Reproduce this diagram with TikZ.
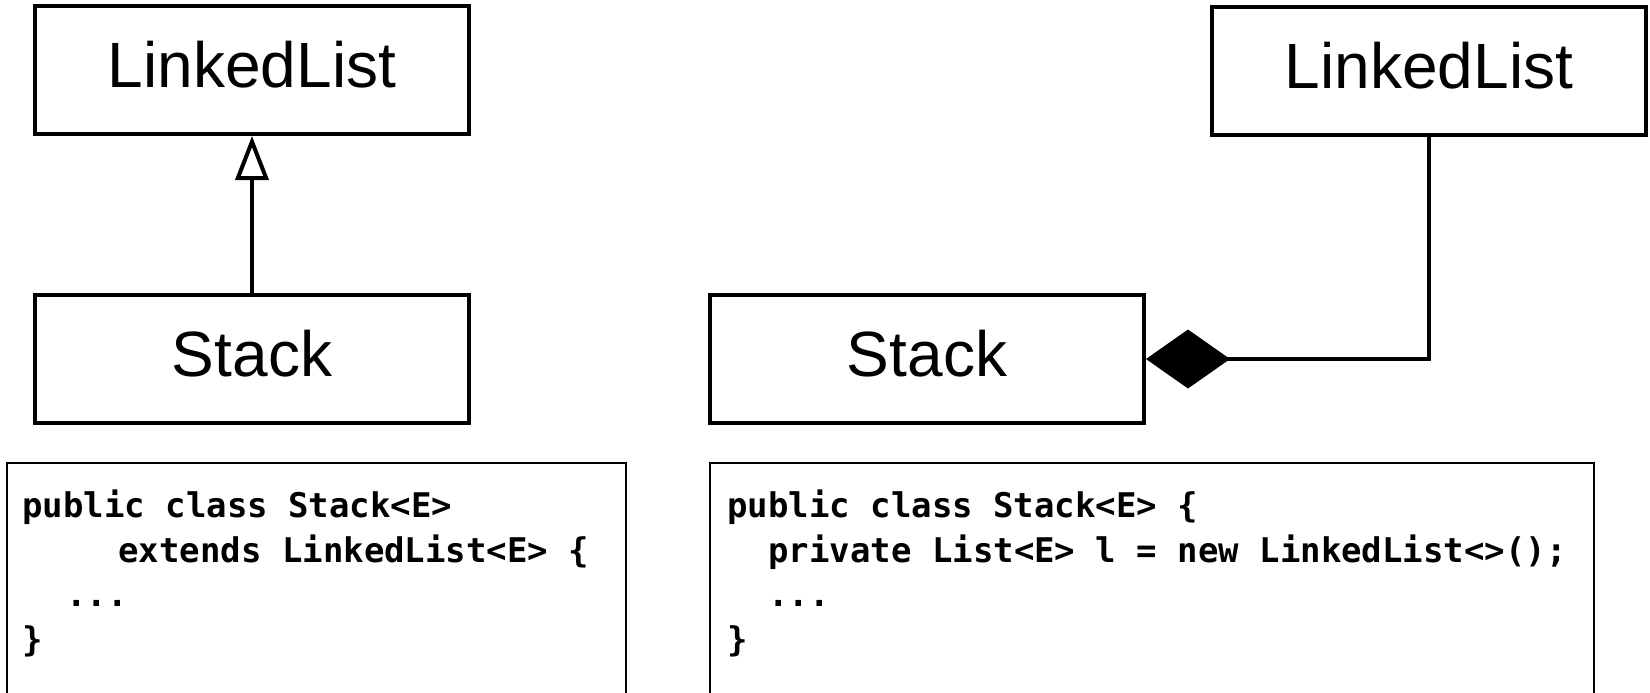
\documentclass[tikz,border=0pt]{standalone}
\usepackage{fontspec}
\setmainfont{Liberation Sans}
\setmonofont{DejaVu Sans Mono}
\usetikzlibrary{arrows.meta}

\tikzset{
  classbox/.style={shape=rectangle,draw=black,line width=2pt,minimum width=217pt,minimum height=64pt,inner sep=0pt,text height=23pt,text depth=6pt,font=\fontsize{32}{38}\selectfont},
  codeline/.style={anchor=base west,inner sep=0pt,font=\ttfamily\bfseries\fontsize{17}{22}\selectfont},
  codebox/.style={draw=black,line width=1pt}
}

\begin{document}
\begin{tikzpicture}[x=0.5pt,y=-0.5pt]
  \useasboundingbox (0,0) rectangle (1650,692);
  \clip (0,0) rectangle (1650,692);

  % inheritance
  \node[classbox] (LLa) at (252,70) {LinkedList};
  \node[classbox] (Sa) at (252,359) {Stack};
  \draw[line width=2pt,-{Triangle[open,length=22pt,width=16.5pt]}] (Sa) -- (LLa);

  % composition
  \node[classbox] (LLb) at (1429,71) {LinkedList};
  \node[classbox] (Sb) at (927,359) {Stack};
  \draw[line width=2pt,-{Diamond[length=42pt,width=29.5pt]}] (LLb.south) |- (Sb.east);

  % code
  \draw[codebox] (7,463) rectangle (626,720);
  \node[codeline] (ca1) at (22,517) {public class Stack<E>};
  \node[codeline] (ca2) at (118,562) {extends LinkedList<E> \{};
  \node[codeline] (ca3) at (66,606) {...};
  \node[codeline] (ca4) at (22,651) {\}};

  \draw[codebox] (710,463) rectangle (1594,720);
  \node[codeline] (cb1) at (727,517) {public class Stack<E> \{};
  \node[codeline] (cb2) at (768,562) {private List<E> l = new LinkedList<>();};
  \node[codeline] (cb3) at (768,606) {...};
  \node[codeline] (cb4) at (727,651) {\}};
\end{tikzpicture}
\end{document}
